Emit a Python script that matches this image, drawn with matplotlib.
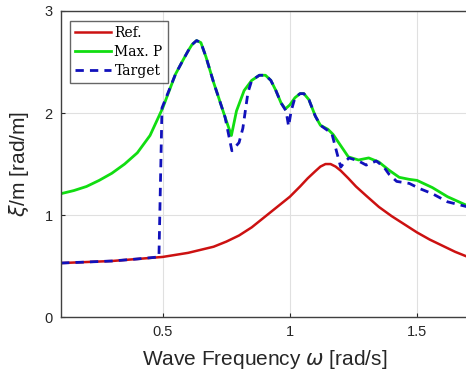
import matplotlib
matplotlib.use("Agg")
import matplotlib.pyplot as plt

# Ref. curve
ref_w = [0.1, 0.2, 0.3, 0.4, 0.5, 0.6, 0.7, 0.75, 0.8, 0.85, 0.9, 0.95, 1.0, 1.04, 1.07, 1.1,
         1.12, 1.14, 1.16, 1.18, 1.2, 1.23, 1.26, 1.3, 1.35, 1.4, 1.45, 1.5, 1.55, 1.6, 1.65, 1.7]
ref_xi = [0.53, 0.54, 0.55, 0.57, 0.59, 0.63, 0.69, 0.74, 0.80, 0.88, 0.98, 1.08, 1.18, 1.28, 1.36, 1.43,
          1.475, 1.50, 1.50, 1.475, 1.435, 1.36, 1.28, 1.19, 1.08, 0.99, 0.91, 0.83, 0.76, 0.70, 0.64, 0.59]

# Max. P curve
maxp_w = [0.1, 0.15, 0.2, 0.25, 0.3, 0.35, 0.4, 0.45, 0.5, 0.55, 0.58, 0.6, 0.615, 0.633, 0.65,
          0.67, 0.7, 0.72, 0.745, 0.77, 0.79, 0.82, 0.85, 0.88, 0.904, 0.925, 0.945, 0.965, 0.982,
          1.0, 1.02, 1.04, 1.055, 1.075, 1.1, 1.12, 1.15, 1.17, 1.2, 1.23, 1.27, 1.31, 1.35, 1.39,
          1.43, 1.47, 1.5, 1.56, 1.62, 1.7]
maxp_xi = [1.21, 1.24, 1.28, 1.34, 1.41, 1.50, 1.61, 1.78, 2.05, 2.38, 2.52, 2.61, 2.67, 2.71, 2.69,
           2.55, 2.30, 2.15, 1.96, 1.78, 2.02, 2.22, 2.32, 2.37, 2.37, 2.32, 2.22, 2.10, 2.04,
           2.08, 2.15, 2.19, 2.19, 2.13, 1.97, 1.88, 1.84, 1.79, 1.68, 1.57, 1.54, 1.56, 1.52, 1.44,
           1.37, 1.35, 1.34, 1.27, 1.18, 1.09]

# Target curve
tgt_w = [0.1, 0.2, 0.3, 0.4, 0.485, 0.497, 0.55, 0.58, 0.6, 0.615, 0.633, 0.65, 0.67, 0.7, 0.72,
         0.745, 0.772, 0.80, 0.815, 0.835, 0.85, 0.88, 0.904, 0.925, 0.945, 0.965, 0.985, 0.995,
         1.005, 1.02, 1.04, 1.055, 1.075, 1.1, 1.12, 1.165, 1.186, 1.2, 1.215, 1.233, 1.27, 1.3,
         1.34, 1.37, 1.39, 1.42, 1.47, 1.51, 1.56, 1.62, 1.7]
tgt_xi = [0.53, 0.54, 0.55, 0.57, 0.59, 2.05, 2.38, 2.52, 2.61, 2.67, 2.71, 2.69, 2.55, 2.30, 2.15,
          1.96, 1.63, 1.71, 1.85, 2.20, 2.32, 2.37, 2.37, 2.32, 2.22, 2.10, 2.02, 1.87,
          2.02, 2.15, 2.19, 2.19, 2.13, 1.97, 1.88, 1.80, 1.60, 1.47, 1.52, 1.56, 1.53, 1.49,
          1.53, 1.47, 1.40, 1.33, 1.31, 1.26, 1.21, 1.13, 1.08]

x_ticks = [0.5, 1, 1.5]
x_tick_labels = ["0.5", "1", "1.5"]
y_ticks = [0, 1, 2, 3]

plt.rcParams['font.family'] = ['Liberation Sans', 'DejaVu Sans']

fig = plt.figure(figsize=(4.66, 3.78), dpi=100)
ax = fig.add_axes([0.131, 0.161, 0.873, 0.810])

ax.plot(ref_w, ref_xi, color='#cc1111', lw=1.8, label='Ref.')
ax.plot(maxp_w, maxp_xi, color='#11dd11', lw=2.0, label='Max. P')
ax.plot(tgt_w, tgt_xi, color='#1111bb', lw=2.0, ls=(0, (3, 2.2)), label='Target')

ax.set_xlim(0.1, 1.7)
ax.set_ylim(0, 3)
ax.set_xticks(x_ticks)
ax.set_xticklabels(x_tick_labels)
ax.set_yticks(y_ticks)
ax.grid(True, color='#e0e0e0', lw=0.8)
ax.set_axisbelow(True)
ax.tick_params(direction='in', length=3, labelsize=10.5, colors='#262626', pad=6)
for s in ax.spines.values():
    s.set_color('#404040')
    s.set_linewidth(1.0)

ax.set_xlabel(r'Wave Frequency $\omega$ [rad/s]', fontsize=15, color='#262626', labelpad=6)
ax.set_ylabel(r'$\xi$/m [rad/m]', fontsize=15, color='#262626', labelpad=10)

leg = ax.legend(loc='upper left', bbox_to_anchor=(0.022, 0.967), prop={'family': 'DejaVu Serif', 'size': 10},
                frameon=True, fancybox=False, edgecolor='#404040', handlelength=2.6,
                handletextpad=0.25, borderpad=0.35, labelspacing=0.35, borderaxespad=0)
leg.get_frame().set_linewidth(1.0)

fig.savefig('out.png', dpi=100)
